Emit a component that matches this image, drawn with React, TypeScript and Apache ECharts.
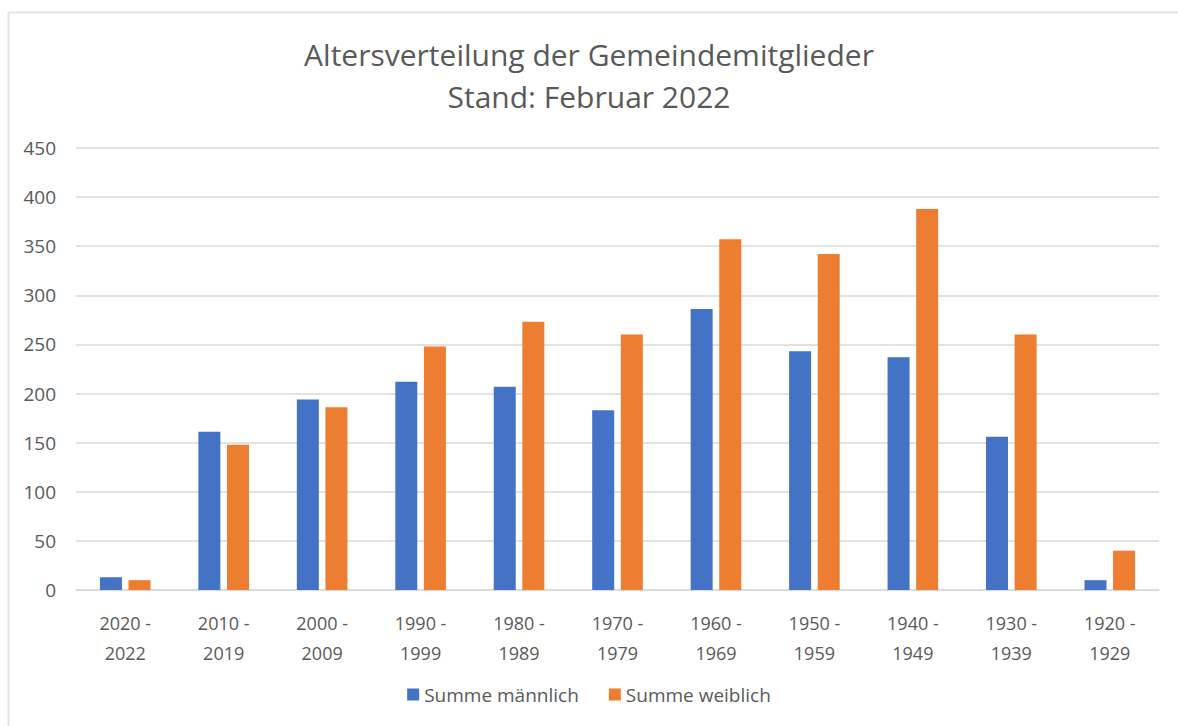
import React, { useEffect, useRef } from "react";
import * as echarts from "echarts";

const categories = [
  "2020 -\n2022",
  "2010 -\n2019",
  "2000 -\n2009",
  "1990 -\n1999",
  "1980 -\n1989",
  "1970 -\n1979",
  "1960 -\n1969",
  "1950 -\n1959",
  "1940 -\n1949",
  "1930 -\n1939",
  "1920 -\n1929",
];
const maleValues = [13, 161, 194, 212, 207, 183, 286, 243, 237, 156, 10];
const femaleValues = [10, 148, 186, 248, 273, 260, 357, 342, 388, 260, 40];
const seriesNames = ["Summe männlich", "Summe weiblich"];
const titleLines = ["Altersverteilung der Gemeindemitglieder", "Stand: Februar 2022"];

const FONT = "'Open Sans', 'Noto Sans', sans-serif";
const TEXT = "#595959";

export default function App() {
  const ref = useRef<HTMLDivElement>(null);
  useEffect(() => {
    if (!ref.current) return;
    const chart = echarts.init(ref.current, null, { renderer: "svg" });
    chart.setOption({
      animation: false,
      backgroundColor: "#ffffff",
      title: {
        text: titleLines.join("\n"),
        left: "center",
        top: 28,
        textStyle: {
          fontFamily: FONT,
          fontSize: 30,
          fontWeight: "normal",
          color: TEXT,
          lineHeight: 42,
        },
      },
      legend: {
        bottom: 17,
        left: "center",
        itemWidth: 12,
        itemHeight: 12,
        itemGap: 30,
        icon: "rect",
        textStyle: { fontFamily: FONT, fontSize: 19, color: TEXT },
        data: seriesNames,
      },
      grid: { left: 76, right: 19, top: 148, bottom: 136, containLabel: false },
      xAxis: {
        type: "category",
        data: categories,
        axisLine: { lineStyle: { color: "#d9d9d9", width: 1.5 } },
        axisTick: { show: false },
        axisLabel: {
          fontFamily: FONT,
          fontSize: 18,
          color: TEXT,
          lineHeight: 30,
          margin: 18,
          interval: 0,
        },
      },
      yAxis: {
        type: "value",
        min: 0,
        max: 450,
        interval: 50,
        axisLine: { show: false },
        axisTick: { show: false },
        splitLine: { lineStyle: { color: "#d9d9d9", width: 1.5 } },
        axisLabel: { fontFamily: FONT, fontSize: 19, color: TEXT, margin: 20 },
      },
      graphic: [
        {
          type: "rect",
          shape: { x: 8.5, y: 12.5, width: 1200, height: 800 },
          style: { fill: "none", stroke: "#e3e3e3", lineWidth: 2 },
          silent: true,
        },
      ],
      series: [
        {
          name: seriesNames[0],
          type: "bar",
          data: maleValues,
          barWidth: 22,
          barGap: "30%",
          itemStyle: { color: "#4472C4" },
        },
        {
          name: seriesNames[1],
          type: "bar",
          data: femaleValues,
          barWidth: 22,
          barGap: "30%",
          itemStyle: { color: "#ED7D31" },
        },
      ],
    });
    return () => chart.dispose();
  }, []);
  return (
    <div
      ref={ref}
      style={{ position: "absolute", left: 0, top: 0, width: 1178, height: 726 }}
    />
  );
}
